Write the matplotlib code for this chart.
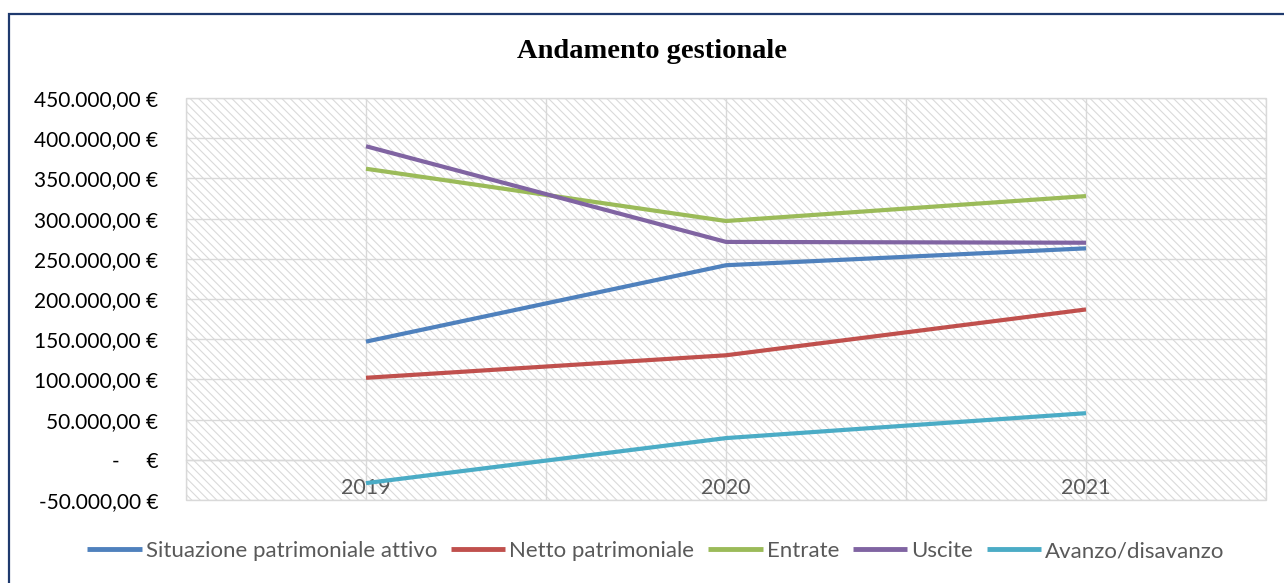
import matplotlib
matplotlib.use("Agg")
import matplotlib.pyplot as plt
from matplotlib.patches import Rectangle
from matplotlib.ticker import FixedLocator, FuncFormatter

# ---- data ----
years = ["2019", "2020", "2021"]
situazione_attivo = [147000, 242000, 263000]
netto_patrimoniale = [102000, 130000, 187000]
entrate = [362000, 297000, 328000]
uscite = [390000, 271000, 270000]
avanzo = [-29000, 27000, 58000]

series_names = ["Situazione patrimoniale attivo", "Netto patrimoniale",
                "Entrate", "Uscite", "Avanzo/disavanzo"]
series_colors = ["#4F81BD", "#C0504D", "#9BBB59", "#8064A2", "#4BACC6"]
y_ticks = [-50000, 0, 50000, 100000, 150000, 200000, 250000, 300000, 350000, 400000, 450000]

W, H = 1284, 583
plt.rcParams['font.family'] = ['Lato', 'DejaVu Sans']
plt.rcParams['hatch.linewidth'] = 0.8

fig = plt.figure(figsize=(W / 100, H / 100), dpi=100)
fig.patch.set_facecolor("white")

# outer frame (cropped on right/bottom)
fig.add_artist(Rectangle((9 / W, -0.05), 1.2, 1 - 14 / H + 0.05, transform=fig.transFigure,
                         fill=False, edgecolor="#1F3A6E", linewidth=1.6))

ax = fig.add_axes([186 / W, 1 - 500 / H, (1266 - 186) / W, (500 - 98) / H])
ax.set_facecolor("white")
# hatched plot area background
ax.add_patch(Rectangle((0, 0), 1, 1, transform=ax.transAxes, facecolor="white",
                       edgecolor="#dadada", hatch="\\\\\\\\", linewidth=0, zorder=0))

x = list(range(len(years)))
all_series = [situazione_attivo, netto_patrimoniale, entrate, uscite, avanzo]
for vals, name, col in zip(all_series, series_names, series_colors):
    ax.plot(x, vals, color=col, linewidth=3.0, label=name, zorder=3,
            solid_capstyle="butt", solid_joinstyle="round")

ax.set_xlim(-0.5, len(years) - 0.5)
ax.set_ylim(y_ticks[0], y_ticks[-1])

ax.yaxis.set_major_locator(FixedLocator(y_ticks))

def eur(v, pos):
    if v == 0:
        return "-     €"
    s = f"{abs(v):,.2f}".replace(",", "X").replace(".", ",").replace("X", ".")
    return ("-" if v < 0 else "") + s + " €"

ax.yaxis.set_major_formatter(FuncFormatter(eur))
ax.set_xticks(x)
ax.set_xticklabels(years)
ax.set_xticks([i - 0.5 for i in range(len(years) + 1)], minor=True)

ax.grid(True, which="both", color="#d9d9d9", linewidth=1.0, zorder=1)
ax.set_axisbelow(True)

for s in ["top", "right", "left"]:
    ax.spines[s].set_visible(False)
ax.spines["bottom"].set_position(("data", 0))
ax.spines["bottom"].set_color("#d9d9d9")
ax.spines["bottom"].set_linewidth(1.0)

# plot area border
ax.add_patch(Rectangle((0, 0), 1, 1, transform=ax.transAxes, fill=False,
                       edgecolor="#d9d9d9", linewidth=1.0, zorder=2, clip_on=False))

ax.tick_params(axis="y", length=0, pad=20, labelsize=15, labelcolor="#000000")
ax.tick_params(axis="x", which="both", length=0, pad=13, labelsize=15.5, labelcolor="#595959")

fig.text(652 / W, 1 - 58 / H, "Andamento gestionale", ha="center", va="baseline",
         fontsize=20.5, fontweight="bold", family="Liberation Serif", color="#000000")

leg = fig.legend(loc="center", bbox_to_anchor=(656 / W, 1 - 551 / H), ncol=5, frameon=False,
                 fontsize=16, handlelength=2.45, handletextpad=0.18, columnspacing=0.62,
                 labelcolor="#595959")
for l in leg.get_lines():
    l.set_linewidth(3.5)

fig.savefig("out.png", dpi=100)
